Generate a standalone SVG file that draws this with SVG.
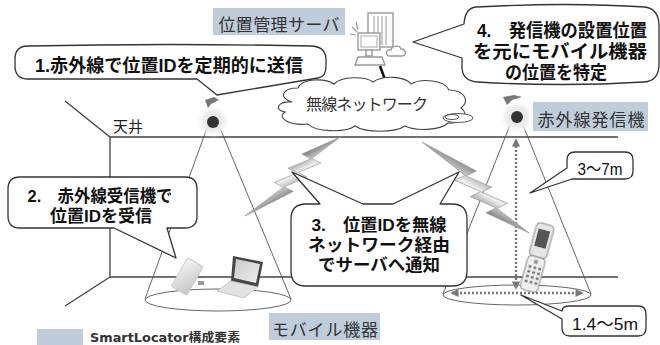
<svg xmlns="http://www.w3.org/2000/svg" width="660" height="345" viewBox="0 0 660 345">
  <defs>
    <style>
      .room { stroke: #444; stroke-width: 1.3; fill: none; }
      .cone { stroke: #555; stroke-width: 0.9; fill: none; }
      .callout { fill: #fff; stroke: #333; stroke-width: 1.3; stroke-linejoin: round; }
      .ctext { font-family: "Liberation Sans", "Noto Sans CJK JP", "Noto Sans CJK SC", sans-serif; font-weight: bold; fill: #111; text-anchor: middle; }
      .dtext { font-family: "Liberation Sans", "Noto Sans CJK JP", sans-serif; font-weight: normal; fill: #111; text-anchor: middle; }
      .label { font-family: "Liberation Sans", "Noto Sans CJK JP", sans-serif; fill: #333; text-anchor: middle; }
      .tag { fill: #bfcddb; }
      .dim { stroke: #777; stroke-width: 2.4; stroke-dasharray: 2 2; fill: none; }
      .icon { fill: #fff; stroke: #999; stroke-width: 1.4; }
    </style>
    <radialGradient id="haze" cx="0.5" cy="0.5" r="0.5">
      <stop offset="0" stop-color="#e2e2e2"/>
      <stop offset="0.55" stop-color="#ececec"/>
      <stop offset="1" stop-color="#ffffff" stop-opacity="0"/>
    </radialGradient>
    <linearGradient id="bolt" x1="0" y1="0" x2="0" y2="1">
      <stop offset="0" stop-color="#808080"/>
      <stop offset="0.5" stop-color="#f0f0f0"/>
      <stop offset="1" stop-color="#909090"/>
    </linearGradient>
    <linearGradient id="pda" x1="0" y1="0" x2="1" y2="1">
      <stop offset="0" stop-color="#f4f4f4"/>
      <stop offset="1" stop-color="#c4c4c4"/>
    </linearGradient>
    <linearGradient id="screen" x1="0" y1="0" x2="1" y2="1">
      <stop offset="0" stop-color="#c8c8c8"/>
      <stop offset="1" stop-color="#f0f0f0"/>
    </linearGradient>
    <filter id="soft" x="-20%" y="-20%" width="140%" height="140%">
      <feGaussianBlur stdDeviation="0.7"/>
    </filter>
    <marker id="arrow" viewBox="0 0 10 10" refX="8" refY="5" markerWidth="3.4" markerHeight="3.4" orient="auto-start-reverse">
      <path d="M0,0 L10,5 L0,10 Z" fill="#777"/>
    </marker>
    <path id="boltShape" d="M0,0 L50,-7 L44,-16 L70,-13 L64,-22 L90,-19 L84,-28 L128,-24 L91,-19 L97,-10 L71,-13 L77,-4 L51,-7 L57,2 Z"/>
  </defs>

  <rect width="660" height="345" fill="#fff"/>

  <!-- room outline: ceiling, wall and floor -->
  <g id="room">
    <path class="room" d="M65,101 L110,137 L618,137"/>
    <path class="room" d="M110,137 L110,277 L618,277"/>
    <path class="room" d="M110,277 L65,306"/>
    <text x="113" y="132" font-family="Liberation Sans, Noto Sans CJK JP, sans-serif" font-size="15" fill="#222">天井</text>
  </g>

  <!-- infrared cones, coverage ellipses, range arrows, links -->
  <g id="connectors">
    <path class="cone" d="M207,128 L145,299 M220,128 L291,299"/>
    <ellipse class="cone" cx="218" cy="300" rx="73" ry="11"/>
    <path class="cone" d="M510,125 L443,294 M523,125 L591,294"/>
    <ellipse class="cone" cx="517" cy="295" rx="74" ry="10"/>
    <line class="dim" x1="516" y1="288" x2="516" y2="140" marker-end="url(#arrow)" marker-start="url(#arrow)"/>
    <line class="dim" x1="452" y1="293" x2="582" y2="293" marker-end="url(#arrow)" marker-start="url(#arrow)"/>
    <!-- server to cloud link -->
    <line x1="380" y1="66" x2="387" y2="85" stroke="#111" stroke-width="2.6"/>
    <!-- wireless bolts -->
    <use href="#boltShape" fill="url(#bolt)" stroke="#999" stroke-width="0.6" transform="translate(245,216) rotate(-29) scale(0.95)"/>
    <use href="#boltShape" fill="url(#bolt)" stroke="#999" stroke-width="0.6" transform="translate(422,142) rotate(30) scale(1.08,-1.05)"/>
  </g>

  <!-- wireless network cloud -->
  <g id="network">
    <path fill="#fff" stroke="#444" stroke-width="1.1" d="M292,102 C278,98 282,88 298,88 C302,78 325,78 334,84 C342,76 365,76 373,82 C383,75 405,76 411,84 C421,78 445,80 449,90 C463,90 471,100 461,108 C470,114 462,124 448,123 C440,131 415,131 405,126 C395,133 365,133 355,126 C345,133 315,132 308,124 C290,126 276,118 285,112 C273,110 278,101 292,102 Z"/>
    <text class="label" x="367" y="110" font-size="16" fill="#555" textLength="122">無線ネットワーク</text>
    <ellipse cx="458" cy="118" rx="15" ry="4.5" fill="#fff" stroke="#555" stroke-width="1"/>
    <ellipse cx="452" cy="117" rx="7" ry="2.5" fill="none" stroke="#555" stroke-width="1"/>
  </g>

  <!-- location management server -->
  <g id="server">
    <rect class="tag" x="213" y="8" width="132" height="27"/>
    <text class="label" x="279" y="31" font-size="17" textLength="121">位置管理サーバ</text>
    <g filter="url(#soft)">
      <rect class="icon" x="368" y="13" width="25" height="34"/>
      <path d="M374,16 V45 M378,16 V45 M382,16 V45 M386,16 V45" stroke="#aaa" stroke-width="1.2"/>
      <rect class="icon" x="358" y="33" width="22" height="17"/>
      <rect x="361" y="36" width="16" height="11" fill="none" stroke="#aaa" stroke-width="1"/>
      <rect class="icon" x="366" y="50" width="6" height="6"/>
      <path class="icon" d="M358,57 L382,57 L385,65 L355,65 Z"/>
      <path class="icon" d="M390,56 C385,56 385,49 391,50 C392,45 400,45 401,49 C406,49 407,56 402,56 Z"/>
      <path d="M352,27 L357,32 M350,34 L356,35 M356,22 L358,30" stroke="#999" stroke-width="1.2"/>
    </g>
  </g>

  <!-- infrared transmitters -->
  <g id="transmitter-left">
    <g filter="url(#soft)">
      <ellipse cx="213" cy="121" rx="18" ry="17" fill="url(#haze)"/>
      <path d="M205,100 L214,97 L219,100 L211,104 L208,108 Z" fill="#777"/>
      <circle cx="213" cy="122" r="6" fill="#333"/>
    </g>
  </g>
  <g id="transmitter-right">
    <g filter="url(#soft)">
      <ellipse cx="517" cy="117" rx="19" ry="18" fill="url(#haze)"/>
      <path d="M503,97 L514,95 L522,97 L512,100 L507,105 Z" fill="#777"/>
      <circle cx="517" cy="117" r="6" fill="#333"/>
    </g>
    <rect class="tag" x="533" y="102" width="115" height="29"/>
    <text class="label" x="591" y="126" font-size="17" textLength="107">赤外線発信機</text>
  </g>

  <!-- mobile devices -->
  <g id="mobile-devices">
    <g filter="url(#soft)">
      <rect x="178" y="260" width="18" height="33" rx="2" fill="url(#pda)" stroke="#ccc" stroke-width="1" transform="rotate(30,187,277)"/>
      <rect x="198" y="281" width="6" height="4" fill="#999"/>
      <path d="M233,256 L263,262 L258,287 L231,281 Z" fill="#444"/>
      <path d="M236,259 L260,264 L256,283 L234,278 Z" fill="url(#screen)"/>
      <path d="M231,281 L258,287 L244,298 L217,291 Z" fill="#e2e2e2" stroke="#bbb" stroke-width="0.8"/>
    </g>
    <g transform="rotate(15,537,258)" filter="url(#soft)">
      <rect x="528" y="223" width="18" height="34" rx="4" fill="#e6e6e6" stroke="#888" stroke-width="1"/>
      <rect x="531" y="229" width="12" height="18" fill="#555"/>
      <rect x="528" y="257" width="18" height="35" rx="4" fill="#eee" stroke="#888" stroke-width="1"/>
      <circle cx="537" cy="262" r="2.2" fill="#999"/>
      <path d="M531,268 h3 M536,268 h3 M541,268 h3 M531,273 h3 M536,273 h3 M541,273 h3 M531,278 h3 M536,278 h3 M541,278 h3 M531,283 h3 M536,283 h3 M541,283 h3" stroke="#777" stroke-width="2.4"/>
    </g>
    <rect class="tag" x="269" y="313" width="111" height="27"/>
    <text class="label" x="325" y="336" font-size="17" textLength="106">モバイル機器</text>
  </g>

  <!-- step callouts -->
  <g id="step1">
    <path class="callout" d="M28,46 Q170,43 312,46 Q326,47 326,60 L326,66 Q326,77 318,78 L217,95 L197,79 L28,79 Q15,79 15,66 L15,59 Q15,46 28,46 Z"/>
    <text class="ctext" x="169" y="72" font-size="18" textLength="268" lengthAdjust="spacingAndGlyphs">1.赤外線で位置IDを定期的に送信</text>
  </g>
  <g id="step2">
    <path class="callout" d="M20,177 L185,177 Q197,177 197,189 L197,216 Q197,228 185,228 L167,228 L176,258 L114,228 L20,228 Q8,228 8,216 L8,189 Q8,177 20,177 Z"/>
    <text class="ctext" x="100" y="202" font-size="17" textLength="145" lengthAdjust="spacingAndGlyphs">2.　赤外線受信機で</text>
    <text class="ctext" x="101" y="222" font-size="17" textLength="102" lengthAdjust="spacingAndGlyphs">位置IDを受信</text>
  </g>
  <g id="step3">
    <path class="callout" d="M306,204 L320,204 L292,172 L363,204 L393,204 L459,172 L440,204 L452,204 Q467,204 467,219 L467,271 Q467,286 452,286 L306,286 Q291,286 291,271 L291,219 Q291,204 306,204 Z"/>
    <text class="ctext" x="379" y="231" font-size="17" textLength="135" lengthAdjust="spacingAndGlyphs">3.　位置IDを無線</text>
    <text class="ctext" x="379" y="251" font-size="17" textLength="142" lengthAdjust="spacingAndGlyphs">ネットワーク経由</text>
    <text class="ctext" x="379" y="271" font-size="17" textLength="122" lengthAdjust="spacingAndGlyphs">でサーバへ通知</text>
  </g>
  <g id="step4">
    <path class="callout" d="M476,7 Q568,2 645,7 Q659,9 659,26 L659,64 Q659,81 644,82 Q560,87 478,82 Q462,81 462,67 L462,58 L413,42 L464,24 Q465,8 476,7 Z"/>
    <text class="ctext" x="562" y="37" font-size="18.5" textLength="170" lengthAdjust="spacingAndGlyphs">4.　発信機の設置位置</text>
    <text class="ctext" x="560" y="58" font-size="18.5" textLength="174" lengthAdjust="spacingAndGlyphs">を元にモバイル機器</text>
    <text class="ctext" x="556" y="79" font-size="18.5" textLength="102" lengthAdjust="spacingAndGlyphs">の位置を特定</text>
  </g>

  <!-- distance callouts -->
  <g id="range-height">
    <path class="callout" d="M575,152 L625,152 Q633,152 633,160 L633,171 Q633,179 625,179 L572,179 L530,193 L567,168 L567,160 Q567,152 575,152 Z"/>
    <text class="dtext" x="600" y="175" font-size="17" textLength="45" lengthAdjust="spacingAndGlyphs">3〜7m</text>
  </g>
  <g id="range-width">
    <path class="callout" d="M570,306 L638,306 Q646,306 646,314 L646,328 Q646,336 638,336 L570,336 Q562,336 562,328 L562,319 L521,295 L562,311 Q562,306 570,306 Z"/>
    <text class="dtext" x="605" y="330" font-size="17" textLength="66" lengthAdjust="spacingAndGlyphs">1.4〜5m</text>
  </g>

  <!-- legend -->
  <g id="legend">
    <rect class="tag" x="37" y="329" width="46" height="16"/>
    <text x="90" y="342" font-family="DejaVu Sans, Noto Sans CJK JP, sans-serif" font-weight="bold" font-size="12.5" fill="#333" textLength="150" lengthAdjust="spacingAndGlyphs">SmartLocator構成要素</text>
  </g>
</svg>
